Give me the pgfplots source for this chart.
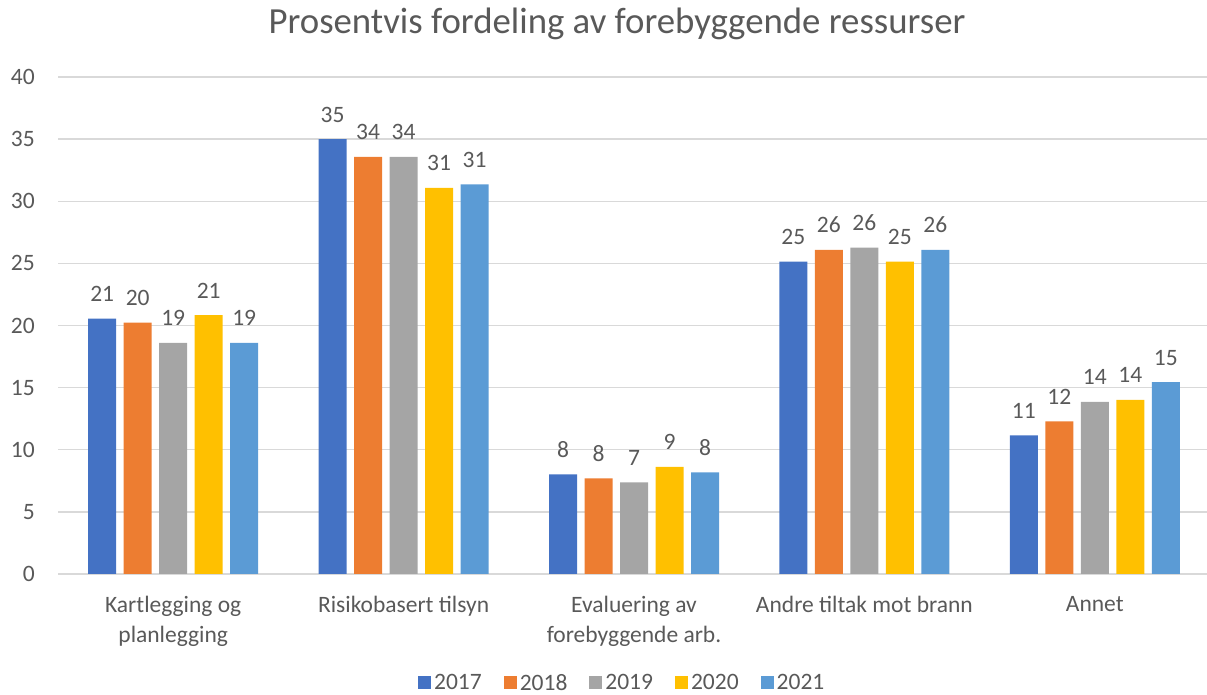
\documentclass[border=0pt]{standalone}
\usepackage{pgfplots}
\usepackage{pgfplotstable}
\pgfplotsset{compat=1.18}
\usepackage{fontspec}
\setmainfont{Carlito}
\definecolor{c17}{HTML}{4472C4}
\definecolor{c18}{HTML}{ED7D31}
\definecolor{c19}{HTML}{A5A5A5}
\definecolor{c20}{HTML}{FFC000}
\definecolor{c21}{HTML}{5B9BD5}
\definecolor{txt}{HTML}{595959}
\definecolor{gridc}{HTML}{D9D9D9}
\pgfplotstableread{
cat y17 y18 y19 y20 y21
0 20.55 20.23 18.60 20.83 18.60
1 35.00 33.57 33.57 31.08 31.35
2 8.02 7.70 7.38 8.63 8.18
3 25.14 26.08 26.26 25.14 26.08
4 11.16 12.28 13.86 14.02 15.45
}\datatable
\newcommand{\lblfont}{\fontsize{23.5bp}{30bp}\selectfont}
\begin{document}
\begin{tikzpicture}
\begin{axis}[
  scale only axis, width=1149bp, height=497bp,
  ymin=0, ymax=40, ytick={0,5,...,40},
  xmin=-0.5, xmax=4.487,
  xtick={0,1,2,3,4},
  xticklabels={{Kartlegging og\\planlegging},{Risikobasert tilsyn},{Evaluering av\\forebyggende arb.},{Andre tiltak mot brann},{Annet}},
  ybar=7.5bp, bar width=28bp,
  axis line style={draw=none},
  major tick length=0pt,
  tick style={draw=none},
  ymajorgrids, grid style={gridc, line width=1.4bp},
  /pgf/number format/assume math mode=true,
  yticklabel style={font=\lblfont, text=txt, inner sep=0pt, anchor=east, xshift=-23bp},
  xticklabel style={font=\lblfont, text=txt, inner sep=0pt, anchor=north, align=center, yshift=-22bp},
  title={Prosentvis fordeling av forebyggende ressurser},
  title style={at={(0.4865,1)}, anchor=base, yshift=38bp, font=\fontsize{36.8bp}{42bp}\selectfont, text=txt, inner sep=0pt},
  nodes near coords={\pgfmathprintnumber[fixed,precision=0,assume math mode=true]{\pgfplotspointmeta}},
  every node near coord/.append style={font=\lblfont, text=txt, anchor=base, inner sep=0pt, yshift=17bp},
  legend columns=5,
  legend style={at={(0.4915,0)}, anchor=center, yshift=-109bp, draw=none, fill=none, font=\lblfont, text=txt, nodes={inner sep=3bp}, /tikz/every even column/.append style={column sep=19bp}},
  legend image code/.code={\path[#1, draw=none] (0bp,-6.5bp) rectangle (13bp,6.5bp);},
]
\addplot[fill=c17, draw=none] table[x=cat, y=y17] {\datatable};
\addplot[fill=c18, draw=none] table[x=cat, y=y18] {\datatable};
\addplot[fill=c19, draw=none] table[x=cat, y=y19] {\datatable};
\addplot[fill=c20, draw=none] table[x=cat, y=y20] {\datatable};
\addplot[fill=c21, draw=none] table[x=cat, y=y21] {\datatable};
\legend{2017,2018,2019,2020,2021}
\end{axis}
\pgfresetboundingbox
\useasboundingbox ([xshift=-58bp,yshift=-121bp]current axis.south west) rectangle ([yshift=77bp]current axis.north east);
\end{tikzpicture}
\end{document}
